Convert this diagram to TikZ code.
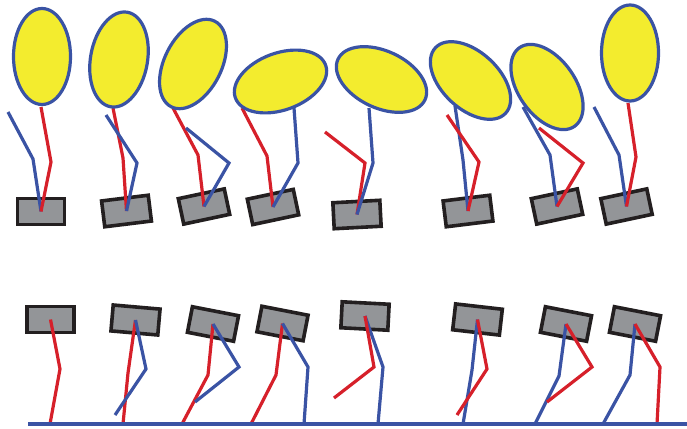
\documentclass[tikz,border=0pt]{standalone}
\usetikzlibrary{shapes.geometric}
\definecolor{bodyyellow}{HTML}{F3EC2E}
\definecolor{legblue}{HTML}{3A53A4}
\definecolor{legred}{HTML}{D6202A}
\definecolor{footgray}{HTML}{939598}
\definecolor{edgedark}{HTML}{231F20}
\tikzset{
  body/.style={ellipse, draw=legblue, fill=bodyyellow, line width=3.2pt,
    minimum width=57pt, minimum height=96pt, inner sep=0pt},
  footbox/.style={rectangle, draw=edgedark, fill=footgray, line width=3.6pt,
    minimum width=47pt, minimum height=26pt, inner sep=0pt},
  redleg/.style={draw=legred, line width=3.2pt},
  blueleg/.style={draw=legblue, line width=3.2pt},
  ground/.style={draw=legblue, line width=3.2pt},
}
\begin{document}
\begin{tikzpicture}[x=1pt, y=-1pt]
\useasboundingbox (0,0) rectangle (687,428);

% ---------- upper row: bodies standing on their feet ----------
% feet
\node[footbox, rotate=0]  (r1) at (41,211.5) {};
\node[footbox, rotate=7]  (r2) at (126.5,211) {};
\node[footbox, rotate=12] (r3) at (204,206.5) {};
\node[footbox, rotate=12] (r4) at (273,207) {};
\node[footbox, rotate=3]  (r5) at (357,214.5) {};
\node[footbox, rotate=7]  (r6) at (468,211) {};
\node[footbox, rotate=12] (r7) at (557,206.5) {};
\node[footbox, rotate=12] (r8) at (626.5,206.5) {};

% leg joints
\coordinate (a1h) at (41,107);  \coordinate (a1k) at (51,162);
\coordinate (b1h) at (8,112);   \coordinate (b1k) at (33,159);
\coordinate (a2h) at (113,108); \coordinate (a2k) at (123,158);
\coordinate (b2h) at (106,115); \coordinate (b2k) at (137,163);
\coordinate (a3h) at (173,108); \coordinate (a3k) at (198,155);
\coordinate (b3h) at (186,128); \coordinate (b3k) at (229,163);
\coordinate (a4h) at (242,108); \coordinate (a4k) at (267,156);
\coordinate (b4h) at (294,108); \coordinate (b4k) at (298,163);
\coordinate (a5h) at (325,132); \coordinate (a5k) at (365,163);
\coordinate (b5h) at (369,108); \coordinate (b5k) at (373,163);
\coordinate (a6h) at (447,115); \coordinate (a6k) at (479,162);
\coordinate (b6h) at (455,106); \coordinate (b6k) at (463,160);
\coordinate (a7h) at (539,128); \coordinate (a7k) at (583,163);
\coordinate (b7h) at (523,107); \coordinate (b7k) at (550,155);
\coordinate (a8h) at (628,103); \coordinate (a8k) at (636,157);
\coordinate (b8h) at (594,107); \coordinate (b8k) at (619,155);

% legs
\draw[blueleg] (b1h) -- (b1k) -- (r1.center);
\draw[redleg]  (a1h) -- (a1k) -- (r1.center);
\draw[redleg]  (a2h) -- (a2k) -- (r2.center);
\draw[blueleg] (b2h) -- (b2k) -- (r2.center);
\draw[redleg]  (a3h) -- (a3k) -- (r3.center);
\draw[blueleg] (b3h) -- (b3k) -- (r3.center);
\draw[redleg]  (a4h) -- (a4k) -- (r4.center);
\draw[blueleg] (b4h) -- (b4k) -- (r4.center);
\draw[redleg]  (a5h) -- (a5k) -- (r5.center);
\draw[blueleg] (b5h) -- (b5k) -- (r5.center);
\draw[blueleg] (b6h) -- (b6k) -- (r6.center);
\draw[redleg]  (a6h) -- (a6k) -- (r6.center);
\draw[blueleg] (b7h) -- (b7k) -- (r7.center);
\draw[redleg]  (a7h) -- (a7k) -- (r7.center);
\draw[blueleg] (b8h) -- (b8k) -- (r8.center);
\draw[redleg]  (a8h) -- (a8k) -- (r8.center);

% bodies
\node[body, rotate=0]   (e1) at (42,56.5) {};
\node[body, rotate=-10] (e2) at (119,59.5) {};
\node[body, rotate=-27] (e3) at (193,64) {};
\node[body, rotate=-70] (e4) at (280.5,81.5) {};
\node[body, rotate=65]  (e5) at (381.5,79.5) {};
\node[body, rotate=47]  (e6) at (470.5,80.5) {};
\node[body, rotate=35]  (e7) at (547,87) {};
\node[body, rotate=0]   (e8) at (630,53) {};

% ---------- lower row: feet hanging over the ground ----------
\coordinate (g0) at (28,424);
\coordinate (g1) at (687,424);

\node[footbox, rotate=0]    (s1) at (50.5,319.5) {};
\node[footbox, rotate=-5]   (s2) at (135.5,320) {};
\node[footbox, rotate=-11]  (s3) at (213,324) {};
\node[footbox, rotate=-11]  (s4) at (282.5,323.5) {};
\node[footbox, rotate=-3]   (s5) at (365,316) {};
\node[footbox, rotate=-6.5] (s6) at (477.5,319.5) {};
\node[footbox, rotate=-11]  (s7) at (566,324) {};
\node[footbox, rotate=-11]  (s8) at (635,324) {};

\coordinate (c1k) at (60,369);  \coordinate (c1f) at (50,424);
\coordinate (c2k) at (128,373); \coordinate (c2f) at (123,424);
\coordinate (d2k) at (146,369); \coordinate (d2f) at (115,415);
\coordinate (c3k) at (208,375); \coordinate (c3f) at (182,424);
\coordinate (d3k) at (239,367); \coordinate (d3f) at (195,402);
\coordinate (c4k) at (276,375); \coordinate (c4f) at (251,424);
\coordinate (d4k) at (308,367); \coordinate (d4f) at (304,424);
\coordinate (c5k) at (374,367); \coordinate (c5f) at (334,398);
\coordinate (d5k) at (383,367); \coordinate (d5f) at (378,424);
\coordinate (c6k) at (487,369); \coordinate (c6f) at (457,415);
\coordinate (d6k) at (472,370); \coordinate (d6f) at (463,424);
\coordinate (c7k) at (592,367); \coordinate (c7f) at (547,402);
\coordinate (d7k) at (559,376); \coordinate (d7f) at (535,424);
\coordinate (c8k) at (660,367); \coordinate (c8f) at (657,424);
\coordinate (d8k) at (630,375); \coordinate (d8f) at (603,424);

\draw[redleg]  (s1.center) -- (c1k) -- (c1f);
\draw[redleg]  (s2.center) -- (c2k) -- (c2f);
\draw[blueleg] (s2.center) -- (d2k) -- (d2f);
\draw[redleg]  (s3.center) -- (c3k) -- (c3f);
\draw[blueleg] (s3.center) -- (d3k) -- (d3f);
\draw[redleg]  (s4.center) -- (c4k) -- (c4f);
\draw[blueleg] (s4.center) -- (d4k) -- (d4f);
\draw[blueleg] (s5.center) -- (d5k) -- (d5f);
\draw[redleg]  (s5.center) -- (c5k) -- (c5f);
\draw[blueleg] (s6.center) -- (d6k) -- (d6f);
\draw[redleg]  (s6.center) -- (c6k) -- (c6f);
\draw[blueleg] (s7.center) -- (d7k) -- (d7f);
\draw[redleg]  (s7.center) -- (c7k) -- (c7f);
\draw[blueleg] (s8.center) -- (d8k) -- (d8f);
\draw[redleg]  (s8.center) -- (c8k) -- (c8f);

\draw[ground] (g0) -- (g1);
\end{tikzpicture}
\end{document}
